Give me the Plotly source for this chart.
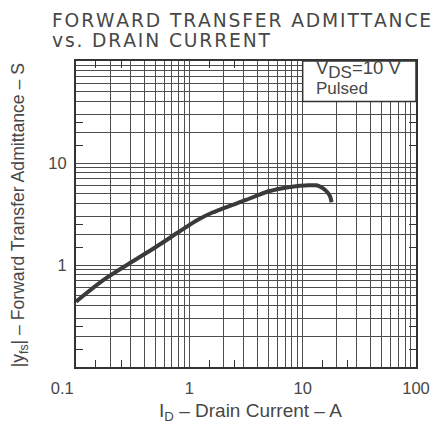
import plotly.graph_objects as go

# Curve (log-log)
id_current = [0.1, 0.174, 0.297, 0.51, 0.818, 1.18, 1.6, 3.16, 5.03, 7.5, 9.5, 11.3, 13.0, 13.8, 15.8, 17.0, 17.5, 18.0]
yfs = [0.437, 0.71, 1.04, 1.51, 2.13, 2.76, 3.27, 4.34, 5.28, 5.79, 5.98, 6.06, 6.05, 5.97, 5.43, 4.95, 4.67, 4.12]

# Grid values (1..9 per decade) and labelled ticks
x_grid = [m * 10 ** e for e in (-1, 0, 1) for m in range(1, 10)] + [100]
y_grid = x_grid
x_labels = {0.1: "0.1\u00a0\u00a0\u00a0\u00a0\u00a0\u00a0", 1: "1", 10: "10", 100: "100"}
y_labels = {1: "1", 10: "10"}
minor_vals = [m * 10 ** e for e in (-1, 0, 1) for m in (1.5, 2.5)]

title_lines = ["FORWARD TRANSFER ADMITTANCE", "vs. DRAIN CURRENT"]
x_title = "I<sub>D</sub> – Drain Current – A"
y_title = "|y<sub>fs</sub>| – Forward Transfer Admittance – S"
cond_lines = ["V<sub><span style='font-size:17px'>DS</span></sub>=10 V", "Pulsed"]

INK = "#333333"
TXT = "#474747"
FONT = "Liberation Sans"
HAIR = "\u200a"

# page has an 8px body margin; plot area in page pixels: x 76..418, y 61..367
PX0, PW, PY1, PH = 76, 342, 367, 306
def px(x):
    return (x - PX0) / PW
def py(y):
    return (PY1 - y) / PH

fig = go.Figure()
fig.add_trace(go.Scatter(x=id_current, y=yfs, mode="lines",
                         line=dict(color="#3a3a3a", width=4, shape="spline", smoothing=0.8),
                         hoverinfo="skip", showlegend=False))

def fmt(v):
    return round(v, 6)

axis_common = dict(type="log", showline=True, linecolor=INK, linewidth=2.2, mirror="allticks",
                   showgrid=True, gridcolor="#4d4d4d", gridwidth=1.3, ticks="", zeroline=False,
                   tickfont=dict(family=FONT, size=16.5, color=TXT),
                   minor=dict(tickmode="array", tickvals=minor_vals, ticks="inside", ticklen=7,
                              tickwidth=1.3, tickcolor=INK, showgrid=False))

fig.update_xaxes(range=[-1, 2], tickmode="array", tickvals=[fmt(v) for v in x_grid],
                 ticktext=[x_labels.get(fmt(v), "") for v in x_grid], ticklabelstandoff=5, **axis_common)
fig.update_yaxes(range=[-1, 2], tickmode="array", tickvals=[fmt(v) for v in y_grid],
                 ticktext=[y_labels.get(fmt(v), "") for v in y_grid], ticklabelstandoff=4, **axis_common)

# Condition box (white, top-right)
fig.add_shape(type="rect", xref="x", yref="y", x0=10, x1=100, y0=40, y1=100,
              fillcolor="white", line=dict(color=INK, width=1.5), layer="above")
fig.add_annotation(x=1.1, y=1.92, xref="x", yref="y", text=cond_lines[0], showarrow=False,
                   xanchor="left", yanchor="middle", font=dict(family=FONT, size=18.5, color=TXT))
fig.add_annotation(x=1.1, y=1.735, xref="x", yref="y", text=cond_lines[1], showarrow=False,
                   xanchor="left", yanchor="middle", font=dict(family=FONT, size=17, color=TXT))

# Titles (wide letter spacing imitated with hair spaces)
fig.add_annotation(x=px(50), y=py(20), xref="paper", yref="paper", xanchor="left", yanchor="middle",
                   text=HAIR.join(title_lines[0]), showarrow=False,
                   font=dict(family="DejaVu Sans", size=18.7, color=TXT))
fig.add_annotation(x=px(50), y=py(40), xref="paper", yref="paper", xanchor="left", yanchor="middle",
                   text=HAIR.join(title_lines[1]), showarrow=False,
                   font=dict(family="DejaVu Sans", size=18.7, color=TXT))

fig.add_annotation(x=px(252), y=py(412), xref="paper", yref="paper", xanchor="center", yanchor="middle",
                   text=x_title, showarrow=False, font=dict(family=FONT, size=19, color=TXT))
fig.add_annotation(x=px(19), y=py(215), xref="paper", yref="paper", xanchor="center", yanchor="middle",
                   text=y_title, textangle=-90, showarrow=False, font=dict(family=FONT, size=17.6, color=TXT))

fig.update_layout(width=434, height=423, margin=dict(l=68, r=24, t=53, b=64),
                  plot_bgcolor="white", paper_bgcolor="white", showlegend=False)

fig.write_html("out.html")
